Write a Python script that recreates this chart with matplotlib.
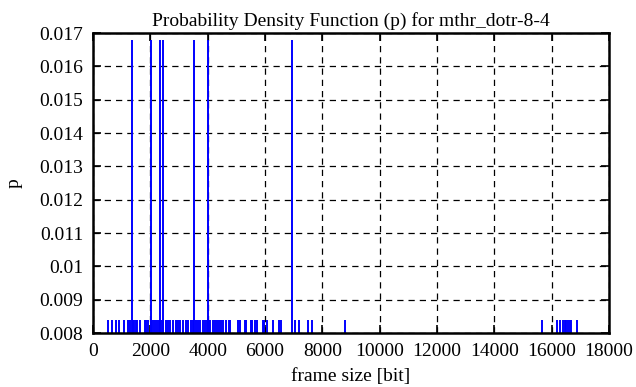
import matplotlib
matplotlib.use("Agg")
import matplotlib.pyplot as plt

# frame sizes [bit] seen once (p = 1/119) and twice (p = 2/119)
single_sizes = [540, 672, 800, 920, 1088, 1224, 1304, 1400, 1432, 1496, 1552, 1648,
                1816, 1864, 1920, 2024, 2088, 2160, 2232, 2304, 2368, 2456, 2544, 2616,
                2688, 2792, 2896, 2960, 3032, 3136, 3240, 3312, 3416, 3488, 3592, 3664,
                3736, 3840, 3904, 3960, 4032, 4080, 4184, 4256, 4328, 4392, 4464, 4552,
                4624, 4728, 4776, 5072, 5128, 5288, 5336, 5496, 5544, 5664, 5736, 5928,
                5968, 6080, 6288, 6504, 6560, 7048, 7200, 7488, 7632, 8792, 15648, 16176,
                16288, 16408, 16464, 16512, 16568, 16624, 16672, 16872]
double_sizes = [1352, 2016, 2336, 2432, 3520, 4008, 6944]
p_single = 0.0084
p_double = 0.0168

x_ticks = list(range(0, 18001, 2000))
y_ticks = [0.008, 0.009, 0.010, 0.011, 0.012, 0.013, 0.014, 0.015, 0.016, 0.017]
y_labels = ["0.008", "0.009", "0.01", "0.011", "0.012", "0.013", "0.014", "0.015", "0.016", "0.017"]

plt.rcParams["font.family"] = ["Liberation Serif", "DejaVu Serif"]

fig = plt.figure(figsize=(6.36, 3.87), dpi=100)
ax = fig.add_axes([0.1462, 0.1395, 0.8113, 0.7752])

ax.vlines(single_sizes, 0.008, p_single, color="#0000ff", linewidth=1.4)
ax.vlines(double_sizes, 0.008, p_double, color="#0000ff", linewidth=1.4)

ax.set_xlim(0, 18000)
ax.set_ylim(0.008, 0.017)
ax.set_xticks(x_ticks)
ax.set_yticks(y_ticks)
ax.set_yticklabels(y_labels)

ax.grid(True, color="black", linestyle=(0, (5, 4)), linewidth=0.9)
ax.tick_params(direction="in", length=6, width=1.2, top=True, right=True,
               labelsize=14, pad=7)
for s in ax.spines.values():
    s.set_linewidth(1.8)

ax.set_title("Probability Density Function (p) for mthr_dotr-8-4", fontsize=14, pad=5)
ax.set_xlabel("frame size [bit]", fontsize=14, labelpad=6)
ax.set_ylabel("p", fontsize=14, labelpad=12)

fig.savefig("out.png", dpi=100)
